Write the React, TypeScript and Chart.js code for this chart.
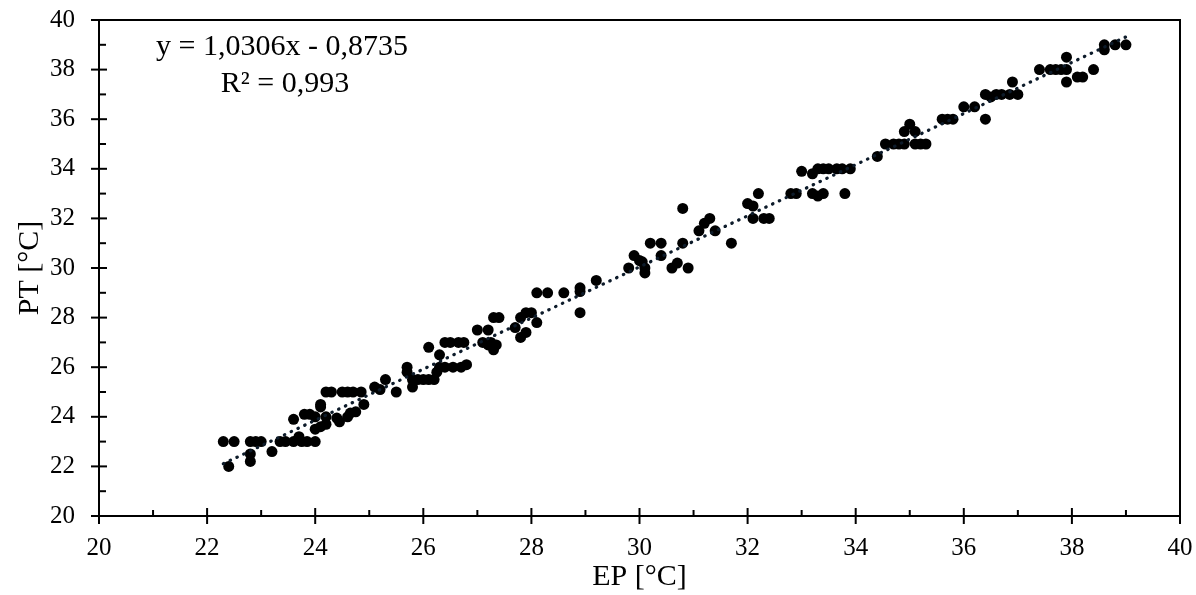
import React, { useEffect, useRef } from "react";
import { Chart, registerables } from "chart.js";

Chart.register(...registerables);

// Measured data (EP on x, PT on y)
const EP = [
  22.3, 22.5, 22.4, 22.8, 22.9, 23.0, 22.8, 22.8, 23.2, 23.35, 23.45, 23.6, 23.7, 23.75, 23.85, 24.0,
  23.6, 23.8, 23.9, 24.0, 24.2, 24.0, 24.1, 24.2, 24.1, 24.1,
  24.2, 24.3, 24.5, 24.6, 24.7, 24.85, 24.4, 24.45, 24.6, 24.65, 24.75, 24.9,
  25.1, 25.2, 25.3, 25.5,
  25.7, 25.7, 25.8, 25.9, 26.0, 26.1, 26.2, 25.8, 26.1, 26.3, 26.25,
  26.4, 26.5, 26.65, 26.75, 26.3, 26.4, 26.55, 26.7, 26.8,
  27.0, 27.2, 27.1, 27.2, 27.3, 27.35, 27.25, 27.3, 27.3, 27.4,
  27.7, 27.8, 27.9, 27.8, 27.9, 28.0, 28.1,
  28.1, 28.3, 28.6, 28.9, 28.9, 28.9, 29.2,
  29.8, 29.9, 30.0, 30.05, 30.1, 30.1, 30.2, 30.4, 30.4, 30.6, 30.7, 30.8, 30.9, 30.8,
  31.1, 31.2, 31.3, 31.4, 31.7,
  32.0, 32.1, 32.2, 32.1, 32.3, 32.4,
  32.8, 32.9, 33.0, 33.2, 33.2, 33.3, 33.4, 33.8,
  33.3, 33.4, 33.5, 33.65, 33.75, 33.9,
  34.4, 34.55, 34.7, 34.8, 34.9, 34.9, 35.0, 35.1, 35.1, 35.2, 35.3,
  35.6, 35.7, 35.8, 36.0, 36.2, 36.4,
  36.4, 36.5, 36.6, 36.7, 36.85, 37.0, 36.9,
  37.4, 37.6, 37.7, 37.8, 37.9, 37.9, 37.9, 38.1, 38.2, 38.4,
  38.6, 38.6, 38.8, 39.0,
];
const PT = [
  23.0, 23.0, 22.0, 23.0, 23.0, 23.0, 22.5, 22.2, 22.6, 23.0, 23.0, 23.0, 23.2, 23.0, 23.0, 23.0,
  23.9, 24.1, 24.1, 24.0, 24.0, 23.5, 23.6, 23.7, 24.5, 24.4,
  25.0, 25.0, 25.0, 25.0, 25.0, 25.0, 23.95, 23.8, 24.0, 24.15, 24.2, 24.5,
  25.2, 25.1, 25.5, 25.0,
  26.0, 25.8, 25.5, 25.5, 25.5, 25.5, 25.5, 25.2, 26.8, 26.5, 25.8,
  27.0, 27.0, 27.0, 27.0, 26.0, 26.0, 26.0, 26.0, 26.1,
  27.5, 27.5, 27.0, 26.9, 26.8, 26.9, 27.0, 26.7, 28.0, 28.0,
  27.6, 27.2, 27.4, 28.0, 28.2, 28.2, 27.8,
  29.0, 29.0, 29.0, 29.2, 29.05, 28.2, 29.5,
  30.0, 30.5, 30.3, 30.25, 30.0, 29.8, 31.0, 31.0, 30.5, 30.0, 30.2, 31.0, 30.0, 32.4,
  31.5, 31.8, 32.0, 31.5, 31.0,
  32.6, 32.5, 33.0, 32.0, 32.0, 32.0,
  33.0, 33.0, 33.9, 33.8, 33.0, 32.9, 33.0, 33.0,
  34.0, 34.0, 34.0, 34.0, 34.0, 34.0,
  34.5, 35.0, 35.0, 35.0, 35.0, 35.5, 35.8, 35.5, 35.0, 35.0, 35.0,
  36.0, 36.0, 36.0, 36.5, 36.5, 36.0,
  37.0, 36.9, 37.0, 37.0, 37.0, 37.0, 37.5,
  38.0, 38.0, 38.0, 38.0, 38.0, 38.5, 37.5, 37.7, 37.7, 38.0,
  38.8, 39.0, 39.0, 39.0,
];

// Linear trendline (as printed on the chart)
const SLOPE = 1.0306;
const INTERCEPT = -0.8735;
const TREND_X = [22.3, 39.0];
const EQUATION_LINES = ["y = 1,0306x - 0,8735", "R² = 0,993"];

const X_TITLE = "EP [°C]";
const Y_TITLE = "PT [°C]";
const AXIS_MIN = 20;
const AXIS_MAX = 40;
const MAJOR_STEP = 2;
const MINOR_STEP = 1;

const FONT = '"Liberation Serif", "Times New Roman", serif';

const framePlugin = {
  id: "frameTicks",
  afterDatasetsDraw(chart: any) {
    const { ctx, chartArea: a, scales } = chart;
    const xs = scales.x;
    const ys = scales.y;
    ctx.save();
    ctx.strokeStyle = "#000";
    ctx.lineWidth = 2;
    ctx.strokeRect(a.left, a.top, a.right - a.left, a.bottom - a.top);
    for (let v = AXIS_MIN; v <= AXIS_MAX; v += MINOR_STEP) {
      const major = (v - AXIS_MIN) % MAJOR_STEP === 0;
      const px = xs.getPixelForValue(v);
      ctx.beginPath();
      ctx.moveTo(px, a.bottom + (major ? 8 : 0));
      ctx.lineTo(px, a.bottom - (major ? 8 : 6));
      ctx.stroke();
      const py = ys.getPixelForValue(v);
      ctx.beginPath();
      ctx.moveTo(a.left - (major ? 8 : 0), py);
      ctx.lineTo(a.left + (major ? 8 : 7), py);
      ctx.stroke();
    }
    ctx.fillStyle = "#000";
    ctx.font = `30px ${FONT}`;
    ctx.textAlign = "center";
    ctx.textBaseline = "alphabetic";
    ctx.fillText(EQUATION_LINES[0], 282, 55);
    ctx.fillText(EQUATION_LINES[1], 285, 92);
    ctx.restore();
  },
};

export default function App() {
  const ref = useRef<HTMLCanvasElement | null>(null);

  useEffect(() => {
    if (!ref.current) return;
    const points = EP.map((x, i) => ({ x, y: PT[i] }));
    const trend = TREND_X.map((x) => ({ x, y: SLOPE * x + INTERCEPT }));
    const tickFont = { family: FONT, size: 25 };
    const titleFont = { family: FONT, size: 30 };
    const zeroPad = (s: any) => {
      s.paddingTop = 0;
      s.paddingBottom = 0;
      s.paddingLeft = 0;
      s.paddingRight = 0;
    };
    const chart = new Chart(ref.current, {
      type: "scatter",
      data: {
        datasets: [
          {
            type: "line",
            data: trend,
            showLine: true,
            pointRadius: 0,
            borderColor: "#0d1b2a",
            borderWidth: 3.2,
            borderDash: [0.5, 7],
            borderCapStyle: "round",
            fill: false,
          } as any,
          {
            data: points,
            pointRadius: 5.5,
            pointHoverRadius: 5.5,
            backgroundColor: "#000",
            borderColor: "#000",
            borderWidth: 0,
          },
        ],
      },
      options: {
        responsive: false,
        animation: false,
        layout: { padding: { left: 0, right: 16, top: 20, bottom: 0 } },
        plugins: { legend: { display: false }, tooltip: { enabled: false } },
        scales: {
          x: {
            type: "linear",
            min: AXIS_MIN,
            max: AXIS_MAX,
            ticks: { stepSize: MAJOR_STEP, font: tickFont, color: "#000", padding: 17 },
            grid: { display: false, drawTicks: false },
            border: { display: false },
            title: { display: true, text: X_TITLE, font: titleFont, color: "#000", padding: { top: 0, bottom: 0 } },
            afterFit: (s: any) => {
              s.height = 79;
              zeroPad(s);
            },
          },
          y: {
            type: "linear",
            min: AXIS_MIN,
            max: AXIS_MAX,
            ticks: { stepSize: MAJOR_STEP, font: tickFont, color: "#000", padding: 24 },
            grid: { display: false, drawTicks: false },
            border: { display: false },
            title: { display: true, text: Y_TITLE, font: titleFont, color: "#000", padding: { top: 12, bottom: 0 } },
            afterFit: (s: any) => {
              s.width = 99;
              zeroPad(s);
            },
          },
        },
      },
      plugins: [framePlugin],
    });
    return () => chart.destroy();
  }, []);

  return (
    <div style={{ position: "absolute", left: 0, top: 0, width: 1196, height: 595, background: "#fff" }}>
      <canvas ref={ref} width={1196} height={595} />
    </div>
  );
}
